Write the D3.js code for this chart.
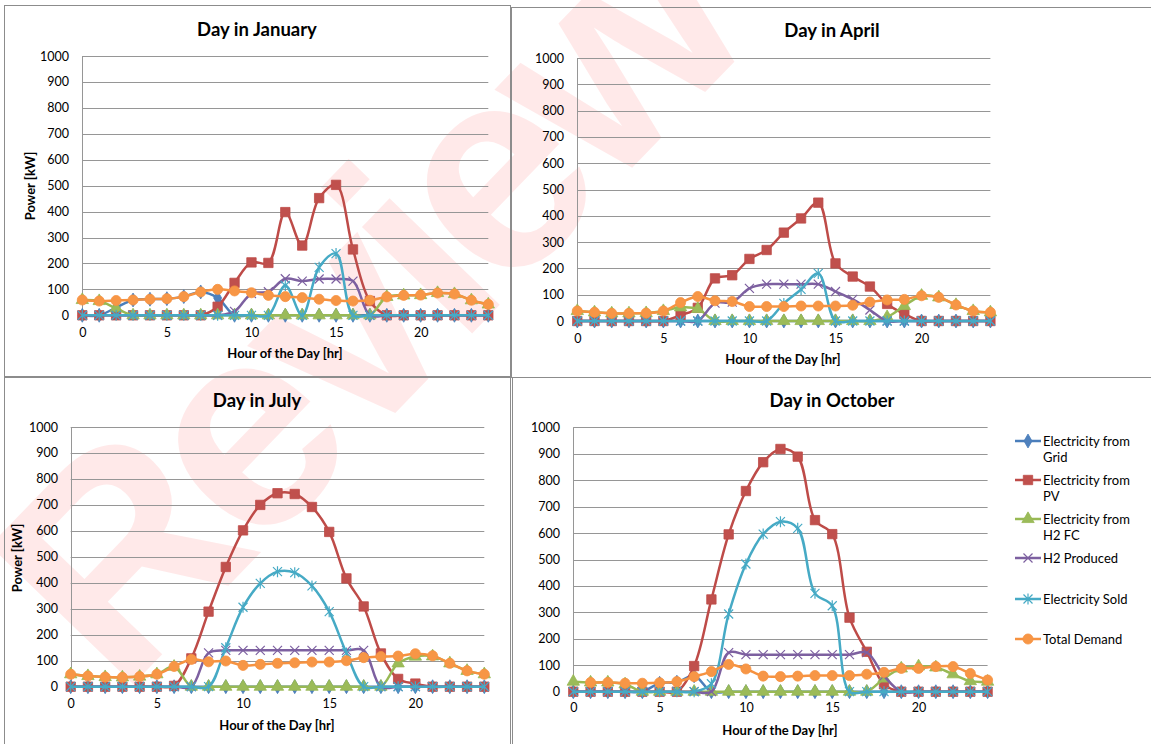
<!DOCTYPE html>
<html><head><meta charset="utf-8">
<script src="https://cdn.jsdelivr.net/npm/d3@7/dist/d3.min.js"></script>
<style>
body{margin:0;background:#fff}
svg{display:block}
text{font-family:Lato,'Open Sans',sans-serif;fill:#000}
</style>
</head><body>
<svg id="chart" width="1151" height="744"></svg>
<script>
// ---------- data ----------
const hours = [0,1,2,3,4,5,6,7,8,9,10,11,12,13,14,15,16,17,18,19,20,21,22,23,24];
const yTicks = [0,100,200,300,400,500,600,700,800,900,1000];
const xTicks = [0,5,10,15,20];

const seriesNames = ["Electricity from Grid","Electricity from PV","Electricity from H2 FC","H2 Produced","Electricity Sold","Total Demand"];
const legendLines = [["Electricity from","Grid"],["Electricity from","PV"],["Electricity from","H2 FC"],["H2 Produced"],["Electricity Sold"],["Total Demand"]];

const janGrid   = [0,0,30,59,62,64,72,90,67,0,0,0,0,0,0,0,0,0,0,0,0,0,0,0,0];
const janPV     = [0,0,0,0,0,0,0,0,33,125,204,202,398,269,452,503,254,55,0,0,0,0,0,0,0];
const janFC     = [59,55,27,0,0,0,0,0,0,0,0,0,0,0,0,0,0,0,71,77,78,86,82,58,42];
const janH2     = [0,0,0,0,0,0,0,0,0,15,84,91,141,132,140,140,132,0,0,0,0,0,0,0,0];
const janSold   = [0,0,0,0,0,0,0,0,0,0,0,0,115,0,185,238,0,0,0,0,0,0,0,0,0];
const janDemand = [59,55,57,59,62,64,72,90,100,94,87,77,72,68,62,57,55,58,71,77,78,86,82,58,42];

const aprGrid   = [0,0,0,0,0,0,0,0,0,0,0,0,0,0,0,0,0,0,0,0,0,0,0,0,0];
const aprPV     = [0,0,0,0,0,0,22,50,162,174,236,270,336,390,450,219,169,131,65,27,0,0,0,0,0];
const aprFC     = [38,33,29,29,30,38,52,46,0,0,0,0,0,0,0,0,0,0,15,57,96,90,61,38,33];
const aprH2     = [0,0,0,0,0,0,0,0,68,72,124,140,140,140,140,112,82,42,0,0,0,0,0,0,0];
const aprSold   = [0,0,0,0,0,0,0,0,0,0,0,0,67,120,181,0,0,0,0,0,0,0,0,0,0];
const aprDemand = [38,33,29,29,30,38,70,93,77,74,55,55,55,57,57,57,60,72,80,82,96,90,61,38,33];

const julGrid   = [0,0,0,0,0,0,0,0,0,0,0,0,0,0,0,0,0,0,0,0,0,0,0,0,0];
const julPV     = [0,0,0,0,0,0,3,109,289,461,602,700,745,742,692,596,417,309,128,30,12,0,0,0,0];
const julFC     = [48,41,37,36,39,48,77,0,0,0,0,0,0,0,0,0,0,0,0,90,116,117,90,61,48];
const julH2     = [0,0,0,0,0,0,0,0,130,140,140,140,140,140,140,140,140,140,0,0,0,0,0,0,0];
const julSold   = [0,0,0,0,0,0,0,0,0,150,306,398,443,439,388,289,130,0,0,0,0,0,0,0,0];
const julDemand = [48,41,37,36,39,48,78,105,96,99,82,86,90,92,95,95,100,112,116,118,127,119,90,61,48];

const octGrid   = [0,0,0,0,0,32,36,60,0,0,0,0,0,0,0,0,0,0,0,0,0,0,0,0,0];
const octPV     = [0,0,0,0,0,0,0,97,349,595,759,868,918,889,649,596,280,151,28,0,0,0,0,0,0];
const octFC     = [38,35,35,28,0,0,0,0,0,0,0,0,0,0,0,0,0,0,50,88,96,92,66,40,38];
const octH2     = [0,0,0,0,0,0,0,0,0,148,140,140,140,140,140,140,140,148,60,0,0,0,0,0,0];
const octSold   = [0,0,0,0,0,0,0,0,30,294,483,596,643,618,372,325,0,0,0,0,0,0,0,0,0];
const octDemand = [null,35,35,32,32,34,38,57,76,103,86,59,57,59,61,61,61,66,73,88,88,95,95,69,44];

// ---------- styles ----------
const lineColors   = ["#4A7EBB","#BE4B48","#98B954","#7D60A0","#46AAC5","#F69240"];
const markerFills  = ["#4F81BD","#C0504D","#9BBB59","none","none","#F79646"];
const markerKinds  = ["diamond","square","triangle","x","star","circle"];

const svg = d3.select("#chart");

// watermark
svg.append("text")
  .attr("transform","translate(363,301) rotate(-46)")
  .attr("text-anchor","middle").attr("dominant-baseline","central")
  .style("font-family","'Liberation Sans',Arial,sans-serif")
  .style("font-weight","bold").style("font-size","290px")
  .style("letter-spacing","-15px")
  .style("fill","#ff0000").style("fill-opacity",0.085)
  .text("Review");

// panel borders
const borders = [
  {x:4.5,y:5.5,w:506,h:372},
  {x:511.5,y:7.5,w:700,h:370},
  {x:4.5,y:376.5,w:506,h:400},
  {x:512.5,y:377.5,w:700,h:400}
];
svg.selectAll("rect.border").data(borders).join("rect")
  .attr("class","border")
  .attr("x",d=>d.x).attr("y",d=>d.y).attr("width",d=>d.w).attr("height",d=>d.h)
  .attr("fill","none").attr("stroke","#8c8c8c").attr("stroke-width",1);

function markerPath(kind){
  switch(kind){
    case "diamond": return d3.symbol(d3.symbolDiamond,56)();
    case "square": return d3.symbol(d3.symbolSquare,88)();
    case "triangle": return d3.symbol(d3.symbolTriangle,66)();
    case "circle": return d3.symbol(d3.symbolCircle,80)();
    case "x": return "M-4.5,-4.5L4.5,4.5M-4.5,4.5L4.5,-4.5";
    case "star": return "M-4.5,-4.5L4.5,4.5M-4.5,4.5L4.5,-4.5M0,-5.5L0,5.5";
  }
}

function drawMarker(g, i, x, y){
  const k = markerKinds[i];
  const p = g.append("path").attr("d", markerPath(k)).attr("transform",`translate(${x},${y})`);
  if(k==="x"||k==="star"){
    p.attr("fill","none").attr("stroke",lineColors[i]).attr("stroke-width",1.2);
  } else {
    p.attr("fill",markerFills[i]).attr("stroke",lineColors[i]).attr("stroke-width",0.8);
  }
}

const panels = [
  {title:"Day in January", series:[janGrid,janPV,janFC,janH2,janSold,janDemand],
   x0:82.3,x1:488.3,y0:315.3,y1:56, tx:257,ty:29, yl:true, ylx:30, yly:186, xlx:285, xly:353, xty:333, ytr:69},
  {title:"Day in April", series:[aprGrid,aprPV,aprFC,aprH2,aprSold,aprDemand],
   x0:577.3,x1:990.4,y0:321,y1:58, tx:832,ty:30, yl:false, xlx:783, xly:359, xty:339, ytr:564},
  {title:"Day in July", series:[julGrid,julPV,julFC,julH2,julSold,julDemand],
   x0:70.7,x1:484.3,y0:686.7,y1:427, tx:257,ty:400, yl:true, ylx:17, yly:558, xlx:277, xly:725, xty:704, ytr:58},
  {title:"Day in October", series:[octGrid,octPV,octFC,octH2,octSold,octDemand],
   x0:573.3,x1:987.6,y0:691.7,y1:427.3, tx:832,ty:400, yl:false, xlx:780, xly:730, xty:708, ytr:560}
];

panels.forEach(p=>{
  const g = svg.append("g");
  const x = d3.scaleLinear().domain([0,24]).range([p.x0,p.x1]);
  const y = d3.scaleLinear().domain([0,1000]).range([p.y0,p.y1]);

  // gridlines
  g.append("g").selectAll("line").data(yTicks.filter(t=>t>0)).join("line")
    .attr("x1",p.x0).attr("x2",p.x1)
    .attr("y1",d=>Math.round(y(d))+0.5).attr("y2",d=>Math.round(y(d))+0.5)
    .attr("stroke","#969696").attr("stroke-width",1);
  // y axis line
  g.append("line").attr("x1",Math.round(p.x0)+0.5).attr("x2",Math.round(p.x0)+0.5)
    .attr("y1",y(1000)).attr("y2",y(0)).attr("stroke","#969696");

  // y tick labels
  const yAxis = d3.axisLeft(y).tickValues(yTicks).tickSize(0).tickPadding(0).tickFormat(d3.format("d"));
  const ya = g.append("g").attr("transform",`translate(${p.ytr},0)`).call(yAxis);
  ya.select(".domain").remove();
  ya.selectAll("text").style("font-size","12.5px").style("font-family","Lato,sans-serif").attr("fill","#000");

  // x tick labels
  const xAxis = d3.axisBottom(x).tickValues(xTicks).tickSize(0).tickPadding(0).tickFormat(d3.format("d"));
  const xa = g.append("g").attr("transform",`translate(0,${p.xty})`).call(xAxis);
  xa.select(".domain").remove();
  xa.selectAll("text").attr("dy","0.35em").style("font-size","12.5px").style("font-family","Lato,sans-serif").attr("fill","#000");

  // series
  p.series.forEach((vals,i)=>{
    const pts = hours.map((h,j)=>({h, v: vals[j]}));
    const line = d3.line().defined(d=>d.v!=null).x(d=>x(d.h)).y(d=>y(d.v)).curve(d3.curveCatmullRom.alpha(0.5));
    g.append("path").attr("d",line(pts)).attr("fill","none")
      .attr("stroke",lineColors[i]).attr("stroke-width",2.5).attr("stroke-linejoin","round");
    const mg = g.append("g");
    pts.filter(d=>d.v!=null).forEach(d=>drawMarker(mg,i,x(d.h),y(d.v)));
  });

  // titles
  g.append("text").attr("x",p.tx).attr("y",p.ty).attr("text-anchor","middle").attr("dominant-baseline","central")
    .style("font-weight","bold").style("font-size","18.5px").text(p.title);
  g.append("text").attr("x",p.xlx).attr("y",p.xly).attr("text-anchor","middle").attr("dominant-baseline","central")
    .style("font-weight","bold").style("font-size","13px").text("Hour of the Day [hr]");
  if(p.yl){
    g.append("text").attr("transform",`translate(${p.ylx},${p.yly}) rotate(-90)`)
      .attr("text-anchor","middle").attr("dominant-baseline","central")
      .style("font-weight","bold").style("font-size","13px").text("Power [kW]");
  }
});

// legend
const legendY = [441,480,519,558,599,639];
const lg = svg.append("g");
legendLines.forEach((lines,i)=>{
  const yy = legendY[i];
  lg.append("line").attr("x1",1015).attr("x2",1041).attr("y1",yy).attr("y2",yy)
    .attr("stroke",lineColors[i]).attr("stroke-width",2.5);
  drawMarker(lg,i,1028,yy);
  lines.forEach((t,k)=>{
    lg.append("text").attr("x",1043).attr("y",yy+k*16).attr("dominant-baseline","central")
      .style("font-size","13px").text(t);
  });
});
</script>
</body></html>
